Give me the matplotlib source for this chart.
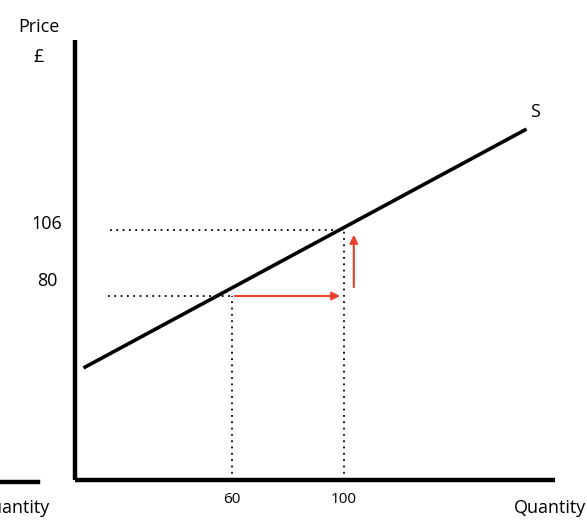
import matplotlib
matplotlib.use("Agg")
import matplotlib.pyplot as plt

supply_q = [7.5, 164.6]
supply_p = [52.0, 145.4]
pts_q = [60, 100]
pts_p = [80, 106]
xticks = ["60", "100"]
yticks = ["106", "80"]

plt.rcParams['font.family'] = ['Open Sans', 'DejaVu Sans']
fig = plt.figure(figsize=(5.87, 5.26), dpi=100)
ax = fig.add_axes([0, 0, 1, 1])
ax.set_xlim(-22.9, 186.8)
ax.set_ylim(-10.6, 196.6)
ax.axis('off')

x0, y0 = 3.9, 7.5
ax.plot([x0, x0], [y0, 180.9], color='black', lw=3.2, solid_capstyle='butt')
ax.plot([x0, 175.3], [y0, y0], color='black', lw=3.2, solid_capstyle='butt')
ax.plot([-22.9, -9.4], [6.8, 6.8], color='black', lw=3.2)
ax.plot(supply_q, supply_p, color='black', lw=2.6)

ax.plot([16.4, 100], [106, 106], color='black', lw=1.3, ls=(0, (1, 2.5)))
ax.plot([15.7, 60], [80, 80], color='black', lw=1.3, ls=(0, (1, 2.5)))
ax.plot([60, 60], [y0, 80], color='black', lw=1.3, ls=(0, (1, 2.5)))
ax.plot([100, 100], [y0, 106], color='black', lw=1.3, ls=(0, (1, 2.5)))

red = '#e8402a'
ax.annotate('', xy=(99.6, 80), xytext=(60, 80),
            arrowprops=dict(arrowstyle='-|>', color=red, lw=1.5, mutation_scale=12))
ax.annotate('', xy=(103.5, 105.2), xytext=(103.5, 82.4),
            arrowprops=dict(arrowstyle='-|>', color=red, lw=1.5, mutation_scale=12))

fs = 13
ax.text(-9.0, 186.0, "Price", fontsize=fs, ha='center', va='center')
ax.text(-9.0, 174.0, "£", fontsize=fs, ha='center', va='center')
ax.text(-6.1, 108.4, yticks[0], fontsize=fs, ha='center', va='center')
ax.text(-6.1, 86.0, yticks[1], fontsize=fs, ha='center', va='center')
ax.text(pts_q[0], -0.3, xticks[0], fontsize=11, ha='center', va='center')
ax.text(pts_q[1], -0.3, xticks[1], fontsize=11, ha='center', va='center')
ax.text(186.6, -3.5, "Quantity", fontsize=fs, ha='right', va='center')
ax.text(-5.0, -3.5, "Quantity", fontsize=fs, ha='right', va='center')
ax.text(168.3, 152.4, "S", fontsize=fs, ha='center', va='center')

fig.savefig("out.png", dpi=100)
